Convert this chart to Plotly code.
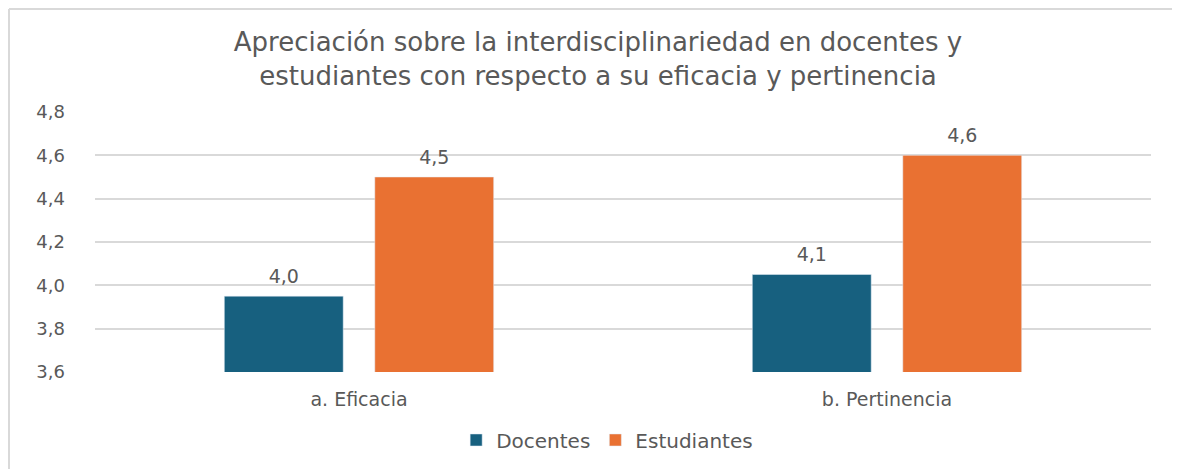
import plotly.graph_objects as go

categories = ["a. Eficacia", "b. Pertinencia"]
docentes = [3.95, 4.05]
estudiantes = [4.5, 4.6]
docentes_labels = ["4,0", "4,1"]
estudiantes_labels = ["4,5", "4,6"]
y_ticks = [3.6, 3.8, 4.0, 4.2, 4.4, 4.6, 4.8]
y_tick_labels = ["3,6", "3,8", "4,0", "4,2", "4,4", "4,6", "4,8"]

TXT = "#595959"
FONT = "DejaVu Sans"
C_DOC = "#17607F"
C_EST = "#E97132"
BORDER = "#D9D9D9"

fig = go.Figure()
fig.add_trace(go.Bar(name="Docentes", x=categories, y=docentes, marker_color=C_DOC,
                     offsetgroup="d"))
fig.add_trace(go.Bar(name="Estudiantes", x=categories, y=estudiantes, marker_color=C_EST,
                     offsetgroup="e"))
# value labels
for vals, labs, grp in [(docentes, docentes_labels, "d"), (estudiantes, estudiantes_labels, "e")]:
    fig.add_trace(go.Scatter(x=categories, y=vals, text=labs, mode="markers+text",
                             textposition="top center", offsetgroup=grp,
                             marker=dict(size=12, opacity=0), showlegend=False,
                             hoverinfo="skip", cliponaxis=False,
                             textfont=dict(size=19, color=TXT, family=FONT)))

W, H = 1180, 469
fig.update_layout(
    width=W, height=H,
    margin=dict(l=87, r=W - 1143, t=104, b=H - 364),
    paper_bgcolor="white", plot_bgcolor="white",
    barmode="group", bargap=0.43, bargroupgap=0.21,
    scattermode="group", scattergap=0.43,
    font=dict(family=FONT, color=TXT, size=16),
    title=dict(text="Apreciación sobre la interdisciplinariedad en docentes y<br>estudiantes con respecto a su eficacia y pertinencia",
               x=0.5, xanchor="center", y=1 - 43 / H, yanchor="middle",
               font=dict(size=26, color=TXT, family=FONT)),
    legend=dict(orientation="h", x=0.485, xanchor="center", y=-0.2615, yanchor="middle",
                font=dict(size=20, color=TXT, family=FONT), itemwidth=30, traceorder="normal"),
    xaxis=dict(showgrid=False, showline=False, ticks="", ticklabelstandoff=14,
               tickfont=dict(size=19, color=TXT)),
    yaxis=dict(range=[3.6, 4.8], tickvals=y_ticks, ticktext=y_tick_labels,
               showgrid=True, gridcolor=BORDER, gridwidth=2, zeroline=False,
               showline=False, ticks="", ticklabelstandoff=29,
               tickfont=dict(size=18, color=TXT)),
    shapes=[
        dict(type="line", xref="paper", yref="paper",
             x0=(1 - 87) / 1056, x1=(1 - 87) / 1056,
             y0=(364 - 480) / 260, y1=(364 - 1) / 260,
             line=dict(color=BORDER, width=2), layer="below"),
        dict(type="line", xref="paper", yref="paper",
             x0=(1 - 87) / 1056, x1=(1200 - 87) / 1056,
             y0=(364 - 1) / 260, y1=(364 - 1) / 260,
             line=dict(color=BORDER, width=2), layer="below"),
    ],
)

fig.write_html("out.html")
